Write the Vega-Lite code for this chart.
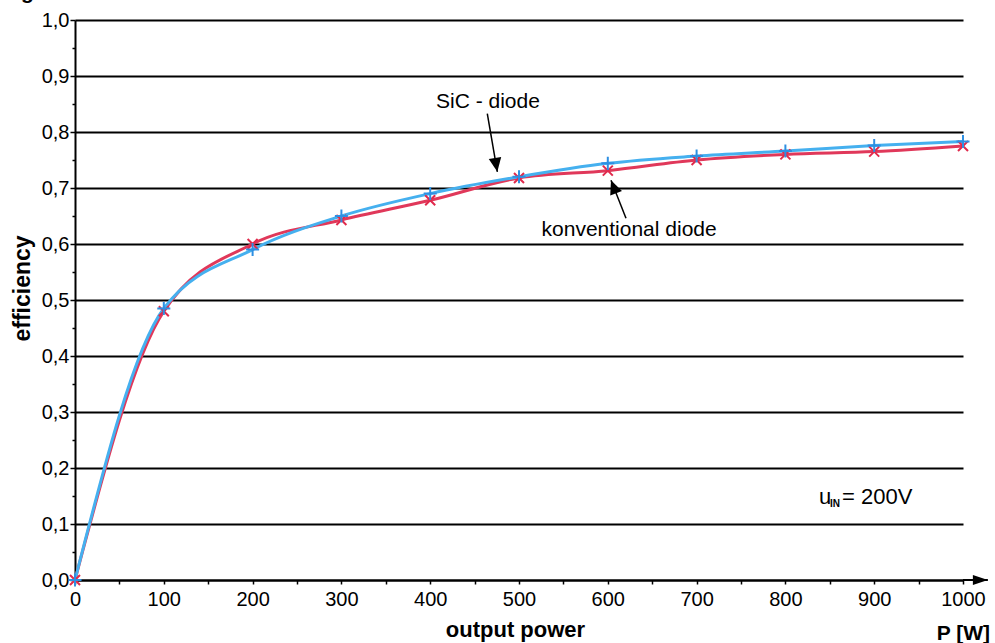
{
  "$schema": "https://vega.github.io/schema/vega-lite/v6.json",
  "width": 888,
  "height": 560,
  "autosize": {"type": "none"},
  "padding": {"left": 75, "top": 20, "right": 32, "bottom": 63},
  "background": "white",
  "config": {
    "view": {"stroke": null},
    "font": "Liberation Sans",
    "text": {"font": "Liberation Sans", "color": "black"}
  },
  "datasets": {
    "curves": [
      {"series": "konventional diode", "x": 0, "y": 0},
      {"series": "konventional diode", "x": 100, "y": 0.48},
      {"series": "konventional diode", "x": 200, "y": 0.6},
      {"series": "konventional diode", "x": 300, "y": 0.643},
      {"series": "konventional diode", "x": 400, "y": 0.678},
      {"series": "konventional diode", "x": 500, "y": 0.718},
      {"series": "konventional diode", "x": 600, "y": 0.731},
      {"series": "konventional diode", "x": 700, "y": 0.75},
      {"series": "konventional diode", "x": 800, "y": 0.76},
      {"series": "konventional diode", "x": 900, "y": 0.765},
      {"series": "konventional diode", "x": 1000, "y": 0.775},
      {"series": "SiC - diode", "x": 0, "y": 0},
      {"series": "SiC - diode", "x": 100, "y": 0.485},
      {"series": "SiC - diode", "x": 200, "y": 0.59},
      {"series": "SiC - diode", "x": 300, "y": 0.65},
      {"series": "SiC - diode", "x": 400, "y": 0.69},
      {"series": "SiC - diode", "x": 500, "y": 0.72},
      {"series": "SiC - diode", "x": 600, "y": 0.744},
      {"series": "SiC - diode", "x": 700, "y": 0.757},
      {"series": "SiC - diode", "x": 800, "y": 0.766},
      {"series": "SiC - diode", "x": 900, "y": 0.776},
      {"series": "SiC - diode", "x": 1000, "y": 0.783}
    ],
    "sicArrow": [{"x": 464.3, "y": 0.833, "x2": 475.6, "y2": 0.729}],
    "sicHead": [{"x": 475.6, "y": 0.729}],
    "konvArrow": [{"x": 620.5, "y": 0.646, "x2": 603.6, "y2": 0.714}],
    "konvHead": [{"x": 603.6, "y": 0.714}],
    "axisArrow": [{"x": 1000, "y": 0, "x2": 1028, "y2": 0}],
    "axisHead": [{"x": 1028, "y": 0}],
    "labels": [
      {"x": 465, "y": 0.843, "text": "SiC - diode"},
      {"x": 624, "y": 0.614, "text": "konventional diode"}
    ],
    "uLabel": [{"x": 837.8, "y": 0.136, "text": "u"}],
    "subLabel": [{"x": 850.2, "y": 0.131, "text": "IN"}],
    "vLabel": [{"x": 863.7, "y": 0.136, "text": "= 200V"}],
    "pLabel": [{"x": 1030.4, "y": -0.108, "text": "P [W]"}],
    "gLabel": [{"x": -53.5, "y": 1.0375, "text": "g"}]
  },
  "encoding": {
    "x": {
      "field": "x",
      "type": "quantitative",
      "scale": {"domain": [0, 1000], "nice": false, "zero": false},
      "axis": {
        "values": [0, 50, 100, 150, 200, 250, 300, 350, 400, 450, 500, 550, 600, 650, 700, 750, 800, 850, 900, 950, 1000],
        "format": "d",
        "labelExpr": "datum.value % 100 == 0 ? datum.label : ''",
        "grid": false,
        "domainColor": "black",
        "domainWidth": 2,
        "tickColor": "black",
        "tickWidth": 1.5,
        "tickSize": 4,
        "labelFont": "Liberation Sans",
        "labelFontSize": 20,
        "labelColor": "black",
        "labelPadding": 5,
        "labelFlush": false,
        "labelOverlap": false,
        "title": "output power",
        "titleFont": "Liberation Sans",
        "titleFontSize": 22,
        "titleFontWeight": "bold",
        "titleColor": "black",
        "titleX": 440,
        "titleY": 49,
        "titleAlign": "center",
        "titleBaseline": "middle"
      }
    },
    "y": {
      "field": "y",
      "type": "quantitative",
      "scale": {"domain": [0, 1], "nice": false, "zero": false},
      "axis": {
        "values": [0, 0.05, 0.1, 0.15, 0.2, 0.25, 0.3, 0.35, 0.4, 0.45, 0.5, 0.55, 0.6, 0.65, 0.7, 0.75, 0.8, 0.85, 0.9, 0.95, 1],
        "labelExpr": "round(datum.value*20) % 2 == 0 ? replace(format(datum.value, '.1f'), '.', ',') : ''",
        "grid": true,
        "gridColor": "black",
        "gridWidth": 2,
        "gridOpacity": {"condition": {"test": "round(datum.value*20) % 2 == 1", "value": 0}, "value": 1},
        "tickSize": {"condition": {"test": "round(datum.value*20) % 2 == 1", "value": 3}, "value": 5},
        "domainColor": "black",
        "domainWidth": 2,
        "tickColor": "black",
        "tickWidth": 1.5,
        "labelFont": "Liberation Sans",
        "labelFontSize": 20,
        "labelColor": "black",
        "labelPadding": 1,
        "labelFlush": false,
        "labelOverlap": false,
        "title": "efficiency",
        "titleFont": "Liberation Sans",
        "titleFontSize": 23,
        "titleFontWeight": "bold",
        "titleColor": "black",
        "titleAngle": -90,
        "titleX": -53,
        "titleY": 268,
        "titleAlign": "center",
        "titleBaseline": "middle"
      }
    }
  },
  "layer": [
    {
      "data": {"name": "curves"},
      "transform": [{"filter": "datum.series == 'konventional diode'"}],
      "mark": {"type": "line", "interpolate": "monotone", "color": "#e0385a", "strokeWidth": 3}
    },
    {
      "data": {"name": "curves"},
      "transform": [{"filter": "datum.series == 'SiC - diode'"}],
      "mark": {"type": "line", "interpolate": "monotone", "color": "#45b0ef", "strokeWidth": 3}
    },
    {
      "data": {"name": "curves"},
      "transform": [{"filter": "datum.series == 'konventional diode'"}],
      "mark": {"type": "point", "shape": "M-1,-1L1,1M-1,1L1,-1", "filled": false, "stroke": "#e02a4c", "strokeWidth": 2, "size": 100, "opacity": 1}
    },
    {
      "data": {"name": "curves"},
      "transform": [{"filter": "datum.series == 'SiC - diode'"}],
      "mark": {"type": "point", "shape": "M-1,0L1,0M0,-1L0,1", "filled": false, "stroke": "#2e8fe2", "strokeWidth": 2, "size": 170, "opacity": 1}
    },
    {
      "data": {"name": "sicArrow"},
      "mark": {"type": "rule", "color": "black", "strokeWidth": 1.5},
      "encoding": {"x2": {"field": "x2"}, "y2": {"field": "y2"}}
    },
    {
      "data": {"name": "konvArrow"},
      "mark": {"type": "rule", "color": "black", "strokeWidth": 1.5},
      "encoding": {"x2": {"field": "x2"}, "y2": {"field": "y2"}}
    },
    {
      "data": {"name": "axisArrow"},
      "mark": {"type": "rule", "color": "black", "strokeWidth": 2},
      "encoding": {"x2": {"field": "x2"}, "y2": {"field": "y2"}}
    },
    {
      "data": {"name": "sicHead"},
      "mark": {"type": "point", "shape": "M0,0L-0.45,1L0.45,1Z", "filled": true, "color": "black", "opacity": 1, "size": 784, "angle": 170.3}
    },
    {
      "data": {"name": "konvHead"},
      "mark": {"type": "point", "shape": "M0,0L-0.45,1L0.45,1Z", "filled": true, "color": "black", "opacity": 1, "size": 784, "angle": 338.6}
    },
    {
      "data": {"name": "axisHead"},
      "mark": {"type": "point", "shape": "M0,0L-0.33,1L0.33,1Z", "filled": true, "color": "black", "opacity": 1, "size": 900, "angle": 90}
    },
    {
      "data": {"name": "labels"},
      "mark": {"type": "text", "fontSize": 21, "align": "center", "baseline": "alphabetic", "color": "black"},
      "encoding": {"text": {"field": "text"}}
    },
    {
      "data": {"name": "uLabel"},
      "mark": {"type": "text", "fontSize": 22, "align": "left", "baseline": "alphabetic", "color": "black"},
      "encoding": {"text": {"field": "text"}}
    },
    {
      "data": {"name": "subLabel"},
      "mark": {"type": "text", "fontSize": 10, "fontWeight": "bold", "align": "left", "baseline": "alphabetic", "color": "black"},
      "encoding": {"text": {"field": "text"}}
    },
    {
      "data": {"name": "vLabel"},
      "mark": {"type": "text", "fontSize": 22, "align": "left", "baseline": "alphabetic", "color": "black"},
      "encoding": {"text": {"field": "text"}}
    },
    {
      "data": {"name": "pLabel"},
      "mark": {"type": "text", "fontSize": 21, "fontWeight": "bold", "align": "right", "baseline": "alphabetic", "color": "black"},
      "encoding": {"text": {"field": "text"}}
    },
    {
      "data": {"name": "gLabel"},
      "mark": {"type": "text", "fontSize": 21, "fontWeight": "bold", "align": "center", "baseline": "alphabetic", "color": "black"},
      "encoding": {"text": {"field": "text"}}
    }
  ]
}
